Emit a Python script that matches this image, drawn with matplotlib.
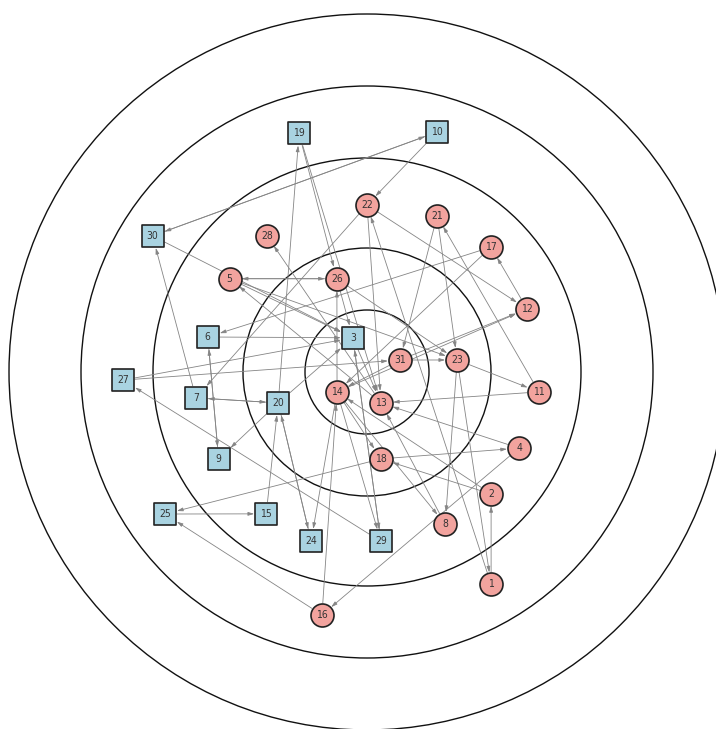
import numpy as np
from matplotlib import pyplot as plt

# rings of the target (radius in px from the centre)
ring_radii = [62, 124, 214, 286, 358]

# nodes: id, kind (s = square, c = circle), distance from centre and angle in degrees
node_ids = [3, 31, 13, 14, 26, 23, 18, 20, 5, 28, 22, 21, 17, 12, 11, 4, 2, 8, 29, 24, 15, 9, 7, 6,
            19, 10, 30, 27, 25, 16, 1]
node_kind = ['s', 'c', 'c', 'c', 'c', 'c', 'c', 's', 'c', 'c', 'c', 'c', 'c', 'c', 'c', 'c', 'c', 'c',
             's', 's', 's', 's', 's', 's', 's', 's', 's', 's', 's', 'c', 'c']
node_dist = [37, 35, 34, 36, 98, 91, 88, 94, 166, 169, 167, 171, 176, 172, 173, 170, 174, 171, 170, 178,
             174, 172, 173, 163, 248, 250, 254, 244, 247, 247, 246]
node_angle = [112.4, 20, -65.7, 213.7, 107.9, 7.6, 279.1, 199.2, 145.8, 126.3, 90, 65.8, 45.2, 21.5,
              353.4, 333.4, 315.5, 297.2, 274.7, 251.7, 234.6, 210.4, 188.6, 167.6, 105.9, 73.7,
              147.6, 181.9, 215.1, 259.5, 300.3]

# directed edges
edge_src = [10, 30, 10, 22, 22, 22, 1, 21, 21, 11, 17, 12, 17, 31, 14, 31, 31, 27, 27, 23, 23, 23, 26, 5,
            11, 4, 3, 8, 13, 13, 5, 26, 19, 19, 20, 14, 26, 6, 30, 5, 20, 29, 3, 14, 29, 14, 14, 14, 16,
            2, 18, 2, 18, 4, 1, 20, 24, 15, 25, 16, 7, 20, 20, 6, 9, 7]
edge_dst = [30, 10, 22, 7, 12, 13, 22, 31, 23, 21, 6, 17, 14, 12, 12, 23, 14, 31, 3, 11, 8, 1, 23, 23,
            13, 13, 13, 13, 28, 5, 26, 5, 26, 13, 19, 26, 3, 3, 3, 3, 3, 3, 29, 29, 27, 24, 18, 8, 14,
            14, 4, 18, 25, 16, 2, 24, 20, 20, 15, 25, 20, 7, 9, 9, 6, 30]

half = 11.5  # half size of a node in px
ang = np.radians(node_angle)
pos = {n: (d * np.cos(a), d * np.sin(a)) for n, d, a in zip(node_ids, node_dist, ang)}
kind = dict(zip(node_ids, node_kind))


def edge_gap(n, ux, uy):
    # distance from node centre to its outline along the direction (ux, uy)
    if kind[n] == 's':
        return half / max(abs(ux), abs(uy)) + 0.5
    return half + 0.5


fig = plt.figure(figsize=(7.16, 7.29), dpi=100)
ax = fig.add_axes((0, 0, 1, 1))
ax.set_xlim(-367, 349)
ax.set_ylim(-357, 372)
ax.set_aspect('equal')
ax.axis('off')

for r in ring_radii:
    ax.add_patch(plt.Circle((0, 0), r, fill=False, lw=1.0, color='#111111', zorder=1))

for s, t in zip(edge_src, edge_dst):
    x0, y0 = pos[s]
    x1, y1 = pos[t]
    length = np.hypot(x1 - x0, y1 - y0)
    ux, uy = (x1 - x0) / length, (y1 - y0) / length
    a = edge_gap(s, ux, uy)
    b = edge_gap(t, ux, uy)
    ax.annotate('', xy=(x1 - ux * b, y1 - uy * b), xytext=(x0 + ux * a, y0 + uy * a),
                arrowprops=dict(arrowstyle='-|>,head_length=0.5,head_width=0.15', color='#858585',
                                lw=0.6, shrinkA=0, shrinkB=0, mutation_scale=7), zorder=2)

size = (2 * half * 72 / 100) ** 2
sq = [n for n in node_ids if kind[n] == 's']
ci = [n for n in node_ids if kind[n] == 'c']
ax.scatter([pos[n][0] for n in sq], [pos[n][1] for n in sq], s=size, marker='s', c='#a9d3e1',
           edgecolors='#222222', linewidths=1.2, zorder=3)
ax.scatter([pos[n][0] for n in ci], [pos[n][1] for n in ci], s=size, marker='o', c='#f2a39e',
           edgecolors='#222222', linewidths=1.2, zorder=3)

for n in node_ids:
    ax.text(pos[n][0], pos[n][1], str(n), ha='center', va='center', fontsize=7.5, color='#333333',
            fontstretch='condensed', zorder=4)

fig.savefig('out.png', dpi=100)
